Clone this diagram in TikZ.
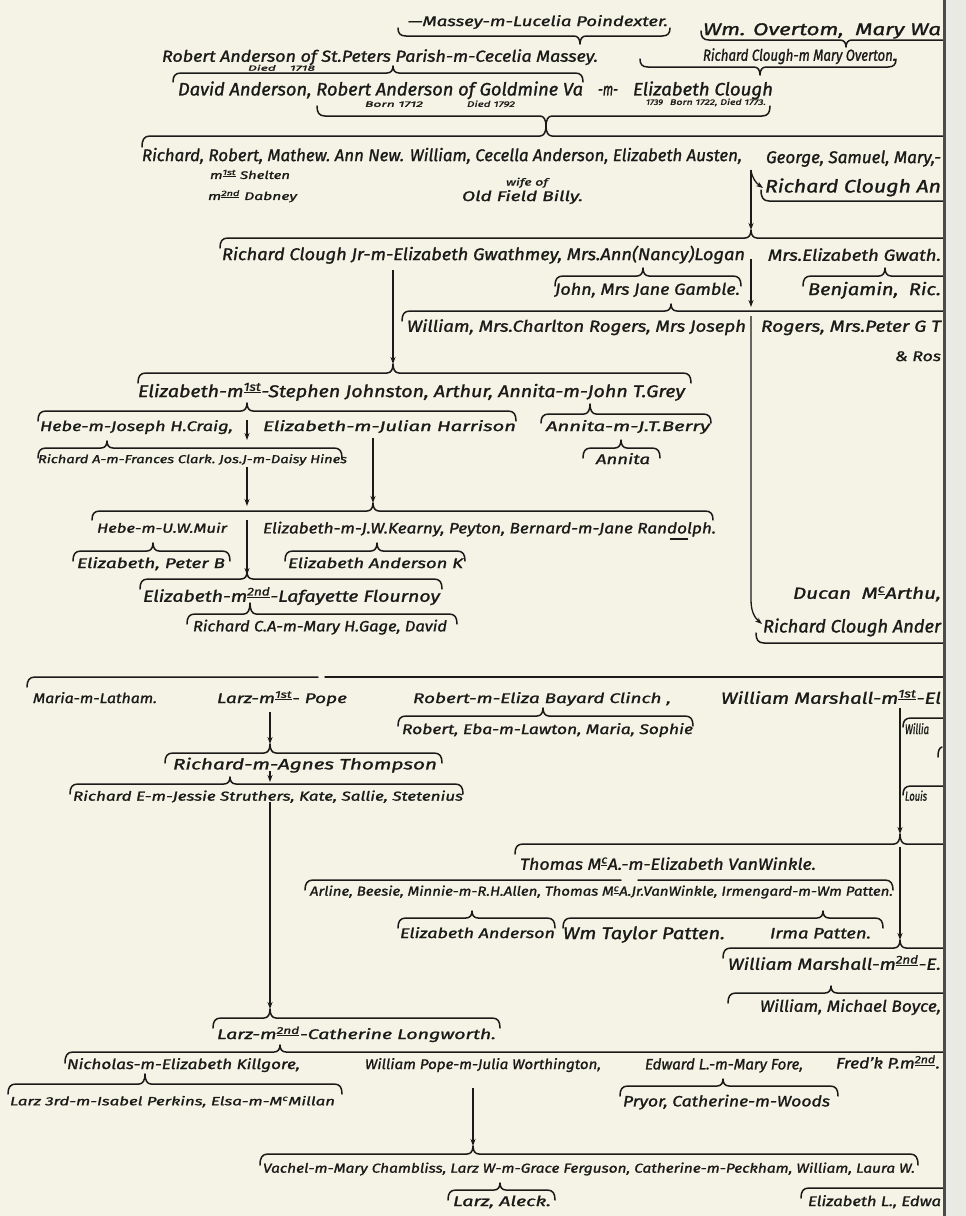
\documentclass[tikz,border=0pt]{standalone}
\usepackage{graphicx}
\usepackage{fontspec}
\setmainfont{Fira Sans}[ItalicFeatures={FakeBold=1.2}]
\usetikzlibrary{arrows.meta}
\definecolor{paper}{RGB}{244,243,229}
\definecolor{ink}{RGB}{26,26,24}
\definecolor{strip}{RGB}{234,234,228}
\newlength\tw
\tikzset{
  txt/.style={inner sep=0pt, outer sep=0pt, text=ink},
  br/.style={draw=ink, line width=1.5pt, line cap=round, line join=round},
  arr/.style={draw=ink, line width=1.3pt, -{Stealth[length=7pt,width=5pt]}},
  ln/.style={draw=ink, line width=1.1pt}
}
% name, x-left, y-centre, width, size, text
\newcommand\T[6]{\node[txt,font=\fontsize{#5}{#5}\selectfont\itshape,anchor=base west] (#1) at (#2,{#3+0.36*#5}) {\settowidth{\tw}{#6}\pgfmathsetmacro\rat{#4/\tw}\scalebox{\rat}[1]{#6}};}
% brace: x1, x2, x-tip, y-line, y-tip, y-ends
\newcommand\BR[6]{\draw[br] (#1,#6) .. controls (#1,{0.35*#6+0.65*#4}) and ({#1+2},#4) .. ({#1+8},#4) -- ({#3-6},#4) .. controls ({#3-2},#4) and (#3,{0.6*#4+0.4*#5}) .. (#3,#5) .. controls (#3,{0.6*#4+0.4*#5}) and ({#3+2},#4) .. ({#3+6},#4) -- ({#2-8},#4) .. controls ({#2-2},#4) and (#2,{0.35*#6+0.65*#4}) .. (#2,#6);}
% brace without tip: x1, x2, y-line, y-ends
\newcommand\BRN[4]{\draw[br] (#1,#4) .. controls (#1,{0.35*#4+0.65*#3}) and ({#1+2},#3) .. ({#1+8},#3) -- ({#2-8},#3) .. controls ({#2-2},#3) and (#2,{0.35*#4+0.65*#3}) .. (#2,#4);}
\begin{document}
\begin{tikzpicture}[x=1pt,y=-1pt]
\useasboundingbox (0,0) rectangle (966,1216);
\fill[paper] (0,0) rectangle (966,1216);
\begin{scope}
\clip (0,0) rectangle (943,1216);
% ---------- top generations
\T{massey}{408}{21}{260}{14}{—Massey-m-Lucelia Poindexter.}
\BR{398}{670}{580}{36}{44}{28}
\T{overtom}{703}{29}{238}{17}{Wm. Overtom,\ \ Mary Wa}
\BR{701}{990}{846}{40}{47}{31}
\T{robert1}{162}{56}{436}{16}{Robert Anderson of St.Peters Parish-m-Cecelia Massey.}
\T{died1}{248}{68}{67}{7.5}{Died\quad 1718}
\T{clough1}{703}{55}{193}{16}{Richard Clough-m Mary Overton.}
\BR{173}{583}{393}{73}{66}{82}
\BR{640}{896}{760}{67}{75}{59}
\T{robert2}{178}{89}{405}{18}{David Anderson, Robert Anderson of Goldmine Va}
\T{mm}{598}{89}{20}{18}{-m-}
\T{eclough}{633}{89}{140}{18}{Elizabeth Clough}
\T{born1}{365}{104}{58}{8}{Born 1712}
\T{died2}{467}{104}{48}{8}{Died 1792}
\T{y1739}{646}{102}{17}{8}{1739}
\T{born2}{670}{102}{96}{8}{Born 1722, Died 1773.}
\BR{317}{770}{546}{116}{126}{106}
\BR{142}{990}{546}{136}{126}{147}
% ---------- children of Robert Anderson of Goldmine
\T{children1}{142}{155}{600}{17}{Richard, Robert, Mathew.\ Ann New. William, Cecella Anderson, Elizabeth Austen,}
\T{george}{766}{157}{175}{17}{George, Samuel, Mary,-}
\T{shelten}{210}{175}{80}{11}{m\textsuperscript{\underline{1st}} Shelten}
\T{dabney}{208}{196}{89}{11}{m\textsuperscript{\underline{2nd}} Dabney}
\T{wife}{506}{182}{42}{10}{wife of}
\T{billy}{462}{196}{121}{14}{Old Field Billy.}
\coordinate (a0) at (751,170);
\coordinate (h0) at (763,188);
\draw[arr] (a0) .. controls (752,178) and (756,183) .. (h0);
\coordinate (t1) at (751,230);
\draw[arr] (a0) -- (t1);
\T{rca}{765}{186}{176}{18}{Richard Clough An}
\BRN{761}{990}{201}{190}
\BR{220}{990}{751}{238}{230}{248}
% ---------- Richard Clough Jr
\T{rcj}{222}{254}{523}{17}{Richard Clough Jr-m-Elizabeth Gwathmey, Mrs.Ann(Nancy)Logan}
\T{meg}{768}{255}{173}{16}{Mrs.Elizabeth Gwath.}
\coordinate (a1) at (751,259);
\coordinate (t2) at (751,307);
\draw[arr] (a1) -- (t2);
\BR{555}{741}{643}{276}{268}{286}
\T{john}{555}{289}{185}{16}{John, Mrs Jane Gamble.}
\BR{803}{990}{885}{276}{268}{286}
\T{benj}{808}{289}{133}{17}{Benjamin,\ \ Ric.}
\BR{402}{990}{671}{311}{304}{321}
\T{wm1}{407}{326}{339}{16}{William, Mrs.Charlton Rogers, Mrs Joseph}
\T{wm2}{761}{326}{180}{16}{Rogers, Mrs.Peter G T}
\T{ros}{895}{356}{46}{14}{\& Ros}
\coordinate (a2) at (751,316);
\coordinate (t3) at (762,624);
\draw[arr] (a2) -- (751,600) .. controls (751,612) and (755,618) .. (t3);
% ---------- Elizabeth m Johnston
\coordinate (a3) at (393,270);
\coordinate (t4) at (393,364);
\draw[arr] (a3) -- (t4);
\BR{138}{691}{393}{373}{364}{383}
\T{eliz1}{138}{391}{547}{17}{Elizabeth-m\textsuperscript{\underline{1st}}-Stephen Johnston, Arthur, Annita-m-John T.Grey}
\BR{38}{516}{247}{411}{403}{421}
\BR{541}{711}{590}{414}{404}{423}
\T{hebe1}{40}{426}{193}{14}{Hebe-m-Joseph H.Craig,}
\coordinate (a4) at (247,420);
\coordinate (t5) at (247,440);
\draw[arr] (a4) -- (t5);
\T{ejh}{263}{426}{253}{14}{Elizabeth-m-Julian Harrison}
\T{ajtb}{546}{426}{164}{14}{Annita-m-J.T.Berry}
\BR{38}{342}{107}{448}{441}{458}
\T{rafc}{38}{459}{309}{11.5}{Richard A-m-Frances Clark.\ Jos.J-m-Daisy Hines}
\BR{583}{660}{621}{448}{440}{458}
\T{annita}{596}{459}{54}{14}{Annita}
\coordinate (a5) at (247,467);
\coordinate (t6) at (247,506);
\draw[arr] (a5) -- (t6);
\coordinate (a6) at (373,438);
\coordinate (t7) at (373,503);
\draw[arr] (a6) -- (t7);
\BR{92}{713}{373}{511}{503}{520}
\T{hebe2}{97}{528}{130}{13}{Hebe-m-U.W.Muir}
\T{ejwk}{263}{528}{453}{15}{Elizabeth-m-J.W.Kearny, Peyton, Bernard-m-Jane Randolph.}
\draw[ln] (670,539) -- (688,539);
\coordinate (a7) at (247,520);
\coordinate (t8) at (247,575);
\draw[arr] (a7) -- (t8);
\BR{73}{230}{153}{551}{543}{561}
\T{epb}{77}{563}{148}{14}{Elizabeth, Peter B}
\BR{285}{465}{377}{551}{543}{561}
\T{eak}{288}{563}{175}{14}{Elizabeth Anderson K}
\BR{140}{442}{247}{579}{572}{589}
\T{elf}{143}{596}{297}{16}{Elizabeth-m\textsuperscript{\underline{2nd}}-Lafayette Flournoy}
\BR{187}{457}{250}{614}{603}{624}
\T{rcag}{193}{626}{254}{15}{Richard C.A-m-Mary H.Gage, David}
\T{ducan}{793}{593}{148}{16}{Ducan\ \ M\textsuperscript{\underline{c}}Arthu,}
\T{rcand}{763}{626}{178}{18}{Richard Clough Ander}
\BRN{756}{990}{643}{633}
% ---------- children of Richard Clough Anderson
\draw[br] (27,687) .. controls (27,681) and (29,677) .. (35,677) -- (318,677);
\draw[br] (325,677) -- (990,677);
\T{maria}{33}{698}{124}{14}{Maria-m-Latham.}
\T{larz1}{217}{698}{130}{14}{Larz-m\textsuperscript{\underline{1st}}- Pope}
\T{rebc}{413}{698}{258}{14}{Robert-m-Eliza Bayard Clinch ,}
\T{wmm1}{721}{698}{220}{16}{William Marshall-m\textsuperscript{\underline{1st}}-El}
\BR{398}{693}{543}{716}{708}{726}
\T{rob2}{402}{729}{291}{14}{Robert, Eba-m-Lawton, Maria, Sophie}
\coordinate (a8) at (270,712);
\coordinate (t9) at (270,744);
\draw[arr] (a8) -- (t9);
\BR{165}{442}{270}{753}{744}{763}
\T{rmat}{173}{764}{264}{15}{Richard-m-Agnes Thompson}
\coordinate (a9) at (270,771);
\coordinate (t10) at (270,782);
\draw[arr] (a9) -- (t10);
\BR{70}{463}{230}{784}{777}{794}
\T{rejs}{73}{796}{390}{13}{Richard E-m-Jessie Struthers, Kate, Sallie, Stetenius}
\coordinate (a10) at (270,802);
\coordinate (t11) at (270,1009);
\draw[arr] (a10) -- (t11);
% ---------- William Marshall
\coordinate (a11) at (900,708);
\coordinate (t12) at (900,834);
\draw[arr] (a11) -- (t12);
\BRN{903}{990}{718}{727}
\T{willia}{905}{729}{24}{14}{Willia}
\draw[br] (938,757) .. controls (938,751) and (939,748) .. (942,747);
\BRN{903}{990}{786}{795}
\T{louis}{905}{796}{22}{13}{Louis}
\BR{515}{990}{900}{844}{834}{854}
\T{tmcA}{520}{864}{296}{16}{Thomas M\textsuperscript{\underline{c}}A.-m-Elizabeth VanWinkle.}
\coordinate (a12) at (900,847);
\coordinate (t13) at (900,940);
\draw[arr] (a12) -- (t13);
\BR{723}{990}{900}{948}{940}{958}
\draw[br] (305,890) .. controls (305,884) and (307,880) .. (313,880) -- (621,880);
\draw[br] (638,880) -- (885,880) .. controls (891,880) and (893,884) .. (893,890);
\T{arline}{310}{891}{583}{13}{Arline, Beesie, Minnie-m-R.H.Allen, Thomas M\textsuperscript{\underline{c}}A.Jr.VanWinkle, Irmengard-m-Wm Patten.}
\BR{398}{555}{472}{918}{911}{928}
\T{ea}{400}{933}{155}{14}{Elizabeth Anderson}
\BR{563}{883}{823}{918}{911}{928}
\T{wtp}{563}{933}{162}{17}{Wm Taylor Patten.}
\T{ip}{770}{933}{101}{15}{Irma Patten.}
\T{wmm2}{728}{964}{213}{16}{William Marshall-m\textsuperscript{\underline{2nd}}-E.}
\BR{728}{990}{831}{993}{986}{1003}
\T{wmb}{760}{1006}{181}{16}{William, Michael Boyce,}
% ---------- Larz second marriage
\BR{213}{500}{270}{1018}{1009}{1028}
\T{larz2}{217}{1034}{279}{14}{Larz-m\textsuperscript{\underline{2nd}}-Catherine Longworth.}
\BR{65}{990}{280}{1052}{1045}{1063}
\T{nich}{67}{1064}{233}{14}{Nicholas-m-Elizabeth Killgore,}
\T{wpjw}{365}{1064}{236}{14}{William Pope-m-Julia Worthington,}
\T{elmf}{645}{1064}{158}{15}{Edward L.-m-Mary Fore,}
\T{fred}{836}{1063}{104}{15}{Fred'k P.m\textsuperscript{\underline{2nd}}.}
\BR{8}{342}{145}{1084}{1074}{1094}
\T{larz3}{10}{1101}{325}{12}{Larz 3rd-m-Isabel Perkins, Elsa-m-M\textsuperscript{c}Millan}
\BR{620}{838}{723}{1086}{1079}{1096}
\T{pryor}{623}{1101}{207}{15}{Pryor, Catherine-m-Woods}
\coordinate (a13) at (473,1088);
\coordinate (t14) at (473,1146);
\draw[arr] (a13) -- (t14);
\BR{260}{918}{473}{1154}{1146}{1165}
\T{vachel}{263}{1168}{652}{13}{Vachel-m-Mary Chambliss, Larz W-m-Grace Ferguson, Catherine-m-Peckham, William, Laura W.}
\BR{448}{555}{500}{1190}{1183}{1200}
\T{aleck}{453}{1201}{98}{14}{Larz, Aleck.}
\BRN{801}{990}{1188}{1198}
\T{elw}{808}{1201}{133}{14}{Elizabeth L., Edwa}
\end{scope}
% ---------- page edge
\fill[strip] (945,0) rectangle (966,1216);
\draw[line width=2.5pt, color=black!70] (944.5,0) -- (944.5,1216);
\end{tikzpicture}
\end{document}
